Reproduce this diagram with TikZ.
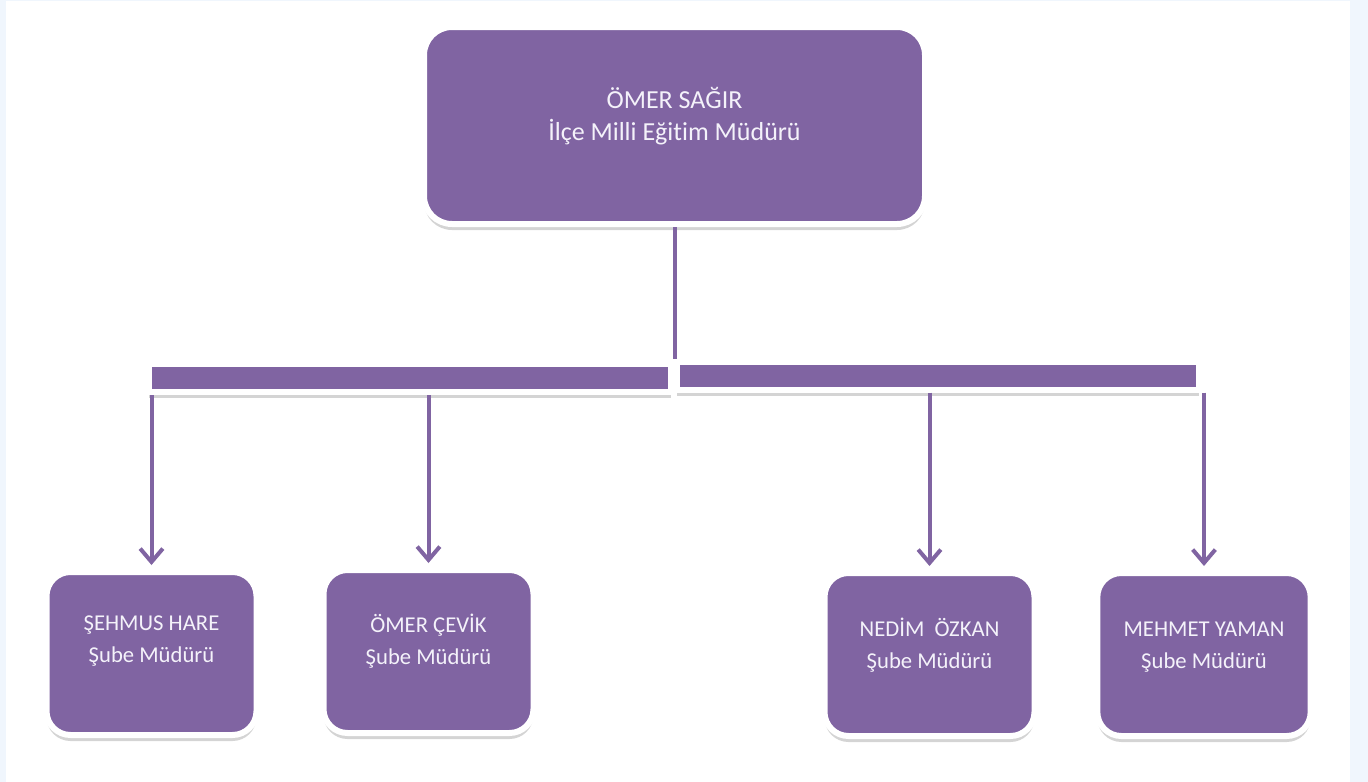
\documentclass[tikz,border=0pt]{standalone}
\usepackage{fontspec}
\setmainfont{Carlito}[Ligatures=NoCommon]
\usetikzlibrary{arrows.meta,shadows}
\definecolor{mor}{HTML}{8064A2}
\definecolor{yazirengi}{HTML}{F4F2FA}
\definecolor{zemin}{HTML}{F0F6FD}
\tikzset{
  golge/.style={drop shadow={shadow xshift=0pt,shadow yshift=-4.5pt,opacity=.17,fill=black}},
  kutu/.style={draw=white,line width=4.5pt,fill=mor,rounded corners=18pt,golge,
    minimum width=157.5pt,minimum height=122.25pt,inner sep=0pt},
  serit/.style={draw=white,line width=4.5pt,fill=mor,golge,
    minimum width=391.5pt,minimum height=21pt,inner sep=0pt},
  etiket/.style={text=yazirengi,align=center,inner sep=0pt},
  cizgi/.style={draw=mor,line width=3pt},
  ok/.style={cizgi,-{Straight Barb[length=10pt,width=17pt]},shorten >=3pt},
}

\begin{document}
\begin{tikzpicture}[x=.75pt,y=-.75pt]%
\fill[zemin] (0,0) rectangle (1368,782); %%
\fill[white] (6,1) rectangle (1350,782); %%
\begin{scope}
\tikzstyle{every node}=[kutu] %%
\node[minimum width=375.75pt,minimum height=147.75pt,rounded corners=21pt] (mudur) at (674.5,125.5) {}; %%
\node (sube1) at (151.5,653.5) {}; %%
\node (sube2) at (428.5,651.5) {}; %%
\node (sube3) at (929.5,654.5) {}; %%
\node[minimum width=160pt] (sube4) at (1204,654.5) {}; %%
\end{scope}
\node[serit] (solbar) at (410,378) {}; %%
\node[serit] (sagbar) at (938,375.5) {}; %%
\begin{scope}
\tikzstyle{every node}=[etiket,font=\fontsize{17}{24}\selectfont] %%
\node[font=\fontsize{19.5}{23.6}\selectfont] (mudur-t) at (674.5,116) {ÖMER SAĞIR\\İlçe Milli Eğitim Müdürü}; %%
\node (sube1-t) at (151.5,641) {ŞEHMUS HARE\\Şube Müdürü}; %%
\node (sube2-t) at (428.5,641) {ÖMER ÇEVİK\\Şube Müdürü}; %%
\node (sube3-t) at (929.5,645) {NEDİM\ \ ÖZKAN\\Şube Müdürü}; %%
\node (sube4-t) at (1204,647) {MEHMET YAMAN\\Şube Müdürü}; %%
\end{scope}
\draw[cizgi] (mudur.south)--(mudur.south |- sagbar.north); %%
\draw[ok] (solbar.south -| sube1.north)--(sube1.north); %%
\draw[ok] (solbar.south -| sube2.north)--(sube2.north); %%
\draw[ok] (sagbar.south -| sube3.north)--(sube3.north); %%
\draw[ok] (sagbar.south -| sube4.north)--(sube4.north); %%
\end{tikzpicture}
\end{document}
